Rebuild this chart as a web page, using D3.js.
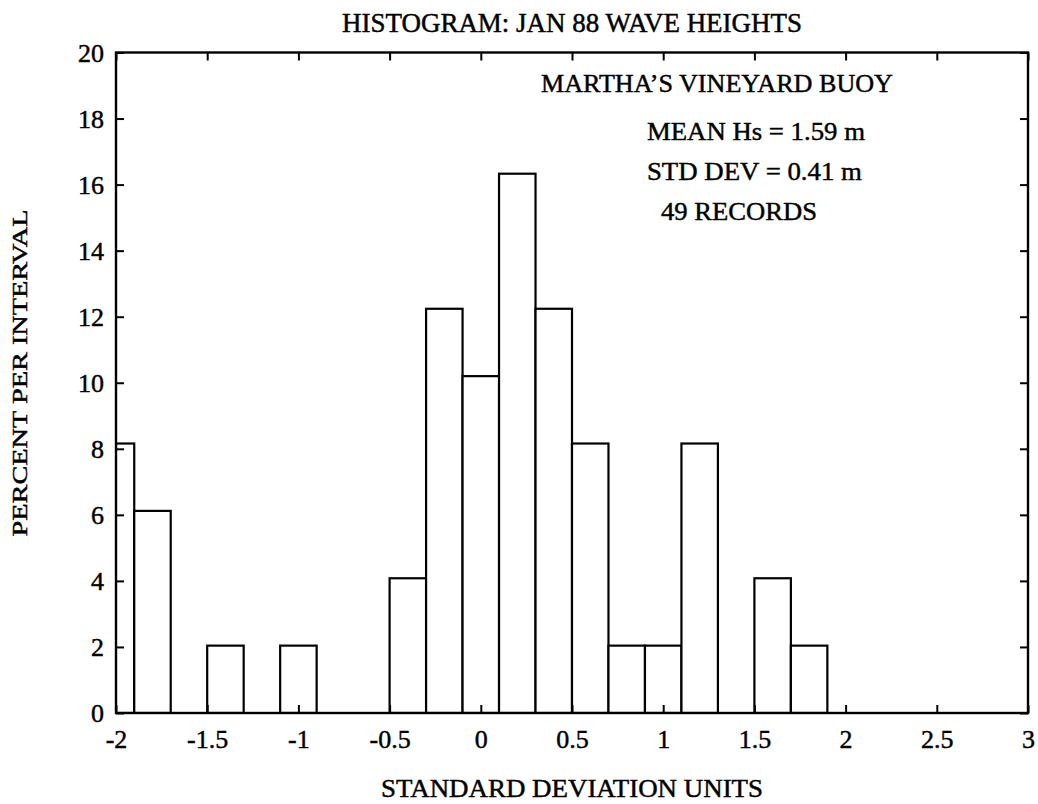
<!DOCTYPE html>
<html>
<head>
<meta charset="utf-8">
<script src="https://cdn.jsdelivr.net/npm/d3@7"></script>
<style>
  html, body { margin: 0; padding: 0; background: #fff; }
  svg text { font-family: "Liberation Serif", "Times New Roman", serif; fill: #000; stroke: #000; stroke-width: 0.45px; }
</style>
</head>
<body>
<svg id="chart" width="1038" height="804"></svg>
<script>
// ---- data ----
const binCenters = [-2.0, -1.8, -1.4, -1.0, -0.4, -0.2, 0.0, 0.2, 0.4, 0.6, 0.8, 1.0, 1.2, 1.6, 1.8];
const percents   = [8.16, 6.12, 2.04, 2.04, 4.08, 12.24, 10.20, 16.33, 12.24, 8.16, 2.04, 2.04, 8.16, 4.08, 2.04];
const binWidth = 0.2;
const xTicks = [-2, -1.5, -1, -0.5, 0, 0.5, 1, 1.5, 2, 2.5, 3];
const yTicks = [0, 2, 4, 6, 8, 10, 12, 14, 16, 18, 20];
const titleText = "HISTOGRAM: JAN 88 WAVE HEIGHTS";
const xLabelText = "STANDARD DEVIATION UNITS";
const yLabelText = "PERCENT PER INTERVAL";
const annotLines = ["MARTHA\u2019S VINEYARD BUOY", "MEAN Hs = 1.59 m", "STD DEV = 0.41 m", "49 RECORDS"];
const annotX = [0.33, 0.911, 0.911, 0.988];
const annotY = [18.8, 17.35, 16.14, 14.93];

// ---- layout ----
const W = 1038, H = 804;
const margin = { left: 116, right: 10, top: 52.5, bottom: 91 };
const svg = d3.select("#chart");
const x = d3.scaleLinear().domain([-2, 3]).range([margin.left, W - margin.right]);
const y = d3.scaleLinear().domain([0, 20]).range([H - margin.bottom, margin.top]);
const fmt = d => String(d);

svg.append("defs").append("clipPath").attr("id", "plotclip")
  .append("rect")
  .attr("x", x(-2)).attr("y", y(20))
  .attr("width", x(3) - x(-2)).attr("height", y(0) - y(20));

// bars
svg.append("g").attr("clip-path", "url(#plotclip)")
  .selectAll("rect").data(binCenters).join("rect")
  .attr("x", (d) => x(d - binWidth / 2))
  .attr("width", (d) => x(d + binWidth / 2) - x(d - binWidth / 2))
  .attr("y", (d, i) => y(percents[i]))
  .attr("height", (d, i) => y(0) - y(percents[i]))
  .attr("fill", "#fff").attr("stroke", "#000").attr("stroke-width", 2.2);

// axes (ticks inward on all four sides)
const tickLen = 8;
const bottomAxis = d3.axisBottom(x).tickValues(xTicks).tickFormat(fmt).tickSizeInner(-tickLen).tickSizeOuter(0).tickPadding(17);
const topAxis = d3.axisTop(x).tickValues(xTicks).tickFormat("").tickSizeInner(-tickLen).tickSizeOuter(0);
const leftAxis = d3.axisLeft(y).tickValues(yTicks).tickFormat(fmt).tickSizeInner(-tickLen).tickSizeOuter(0).tickPadding(12);
const rightAxis = d3.axisRight(y).tickValues(yTicks).tickFormat("").tickSizeInner(-tickLen).tickSizeOuter(0);

function styleAxis(g) {
  g.select(".domain").remove();
  g.selectAll(".tick line").attr("stroke", "#000").attr("stroke-width", 2);
  g.selectAll(".tick text").attr("font-size", 26).attr("font-family", "Liberation Serif, serif").attr("fill", "#000");
}
svg.append("g").attr("transform", `translate(0,${y(0)})`).call(bottomAxis).call(styleAxis);
svg.append("g").attr("transform", `translate(0,${y(20)})`).call(topAxis).call(styleAxis);
const gl = svg.append("g").attr("transform", `translate(${x(-2)},0)`).call(leftAxis).call(styleAxis);
gl.selectAll(".tick text").attr("dy", "0.34em");
svg.append("g").attr("transform", `translate(${x(3)},0)`).call(rightAxis).call(styleAxis);

// frame
svg.append("rect")
  .attr("x", x(-2)).attr("y", y(20))
  .attr("width", x(3) - x(-2)).attr("height", y(0) - y(20))
  .attr("fill", "none").attr("stroke", "#000").attr("stroke-width", 2.4);

// title
svg.append("text")
  .attr("x", (x(-2) + x(3)) / 2).attr("y", 32)
  .attr("text-anchor", "middle").attr("font-size", 27)
  .attr("textLength", 460).attr("lengthAdjust", "spacingAndGlyphs")
  .text(titleText);

// x label
svg.append("text")
  .attr("x", (x(-2) + x(3)) / 2).attr("y", 797)
  .attr("text-anchor", "middle").attr("font-size", 25)
  .attr("textLength", 382).attr("lengthAdjust", "spacingAndGlyphs")
  .text(xLabelText);

// y label
svg.append("text")
  .attr("transform", `translate(27,${373}) rotate(-90)`)
  .attr("text-anchor", "middle").attr("font-size", 22)
  .attr("textLength", 327).attr("lengthAdjust", "spacingAndGlyphs")
  .text(yLabelText);

// annotation
const annotLen = [352, 218, 215, 156];
svg.append("g").selectAll("text").data(annotLines).join("text")
  .attr("x", (d, i) => x(annotX[i]))
  .attr("y", (d, i) => y(annotY[i]))
  .attr("font-size", 26)
  .attr("textLength", (d, i) => annotLen[i]).attr("lengthAdjust", "spacingAndGlyphs")
  .text(d => d);
</script>
</body>
</html>
